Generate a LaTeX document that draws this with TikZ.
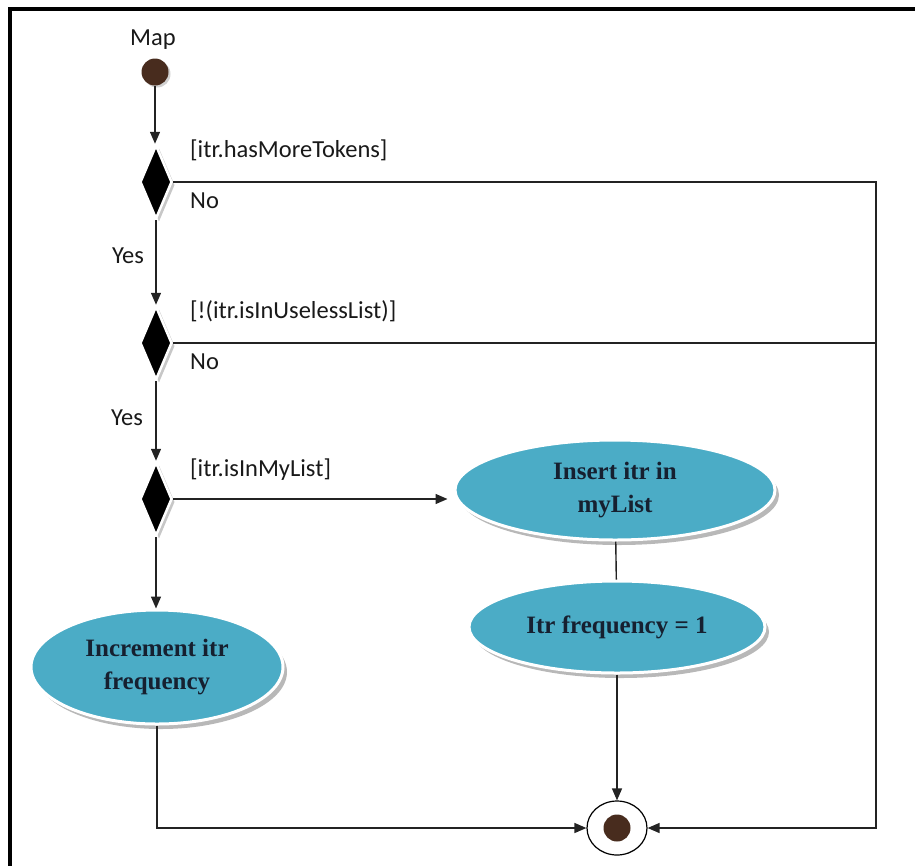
\documentclass[tikz,border=0pt]{standalone}
\usepackage{fontspec}
\setmainfont{Liberation Serif}
\newfontfamily\labelfont{Carlito}
\usetikzlibrary{shapes.geometric,arrows.meta,shadows}
\definecolor{actfill}{RGB}{75,172,198}
\definecolor{acttext}{RGB}{22,32,48}
\definecolor{dotbrown}{RGB}{72,44,30}
\definecolor{wire}{RGB}{35,35,35}
\begin{document}
\begin{tikzpicture}[x=1pt,y=-1pt,
  guard/.style={font=\labelfont\fontsize{24.5}{28}\selectfont, text=black!90, inner sep=0pt},
  flow/.style={draw=wire, line width=1.4pt, -{Triangle[length=12pt,width=10pt]}},
  plain/.style={draw=wire, line width=1.4pt},
  choice/.style={diamond, fill=black, draw=white, line width=2.5pt,
    minimum width=32pt, minimum height=74pt, inner sep=0pt,
    drop shadow={shadow xshift=3pt, shadow yshift=-3pt, fill=black!22, opacity=1}},
  activity/.style={ellipse, fill=actfill, draw=white, line width=3pt, text=acttext,
    font=\bfseries\fontsize{25}{33}\selectfont, align=center, inner sep=0pt,
    drop shadow={shadow xshift=4pt, shadow yshift=-5pt, fill=black!28, opacity=1}},
  startdot/.style={circle, fill=dotbrown, minimum size=27pt, inner sep=0pt,
    drop shadow={shadow xshift=2pt, shadow yshift=-2pt, fill=black!18, opacity=1}},
  endring/.style={ellipse, draw=black, line width=1.2pt, fill=white,
    minimum width=60pt, minimum height=54pt, inner sep=0pt},
  enddot/.style={circle, fill=dotbrown, minimum size=27pt, inner sep=0pt},
]
\useasboundingbox (0,0) rectangle (915,865);

% page frame (top and left edges)
\draw[line width=3.5pt, line cap=rect] (10,870) -- (10,9) -- (920,9);

% initial node
\node[guard] (maplbl) at (153,40) {Map};
\node[startdot] (start) at (155,72) {};

% decisions
\node[choice] (d1) at (156,182) {};
\node[choice] (d2) at (156,343) {};
\node[choice] (d3) at (156,499) {};

\node[guard, anchor=west] (g1) at (190,150) {[itr.hasMoreTokens]};
\node[guard, anchor=west] (no1) at (190,201) {No};
\node[guard, anchor=west] (g2) at (190,311) {[!(itr.isInUselessList)]};
\node[guard, anchor=west] (no2) at (190,362) {No};
\node[guard, anchor=west] (g3) at (190,470) {[itr.isInMyList]};
\node[guard] (yes1) at (128,256) {Yes};
\node[guard] (yes2) at (127,418) {Yes};

% actions
\node[activity, minimum width=320pt, minimum height=100pt] (insert) at (615,490)
  {Insert itr in\\myList};
\node[activity, minimum width=296pt, minimum height=92pt] (setone) at (617,627)
  {Itr frequency = 1};
\node[activity, minimum width=252pt, minimum height=114pt] (incr) at (157,667)
  {Increment itr\\frequency};

% final node
\node[endring] (fin) at (617,828) {};
\node[enddot] (findot) at (fin.center) {};

% right-hand return line
\coordinate (r1) at (876,182);
\coordinate (r2) at (876,343);

% connectors
\draw[flow] (start) -- (start |- d1.north);
\draw[flow] (d1) -- (d2);
\draw[flow] (d2) -- (d3);
\draw[flow, shorten >=6pt] (d3.east) -- (d3.east -| insert.west);
\draw[flow] (d3) -- (d3 |- incr.north);
\draw[plain] (insert) -- (setone);
\draw[flow] (setone) -- (fin);
\draw[flow] (incr.south) |- (fin.west);
\draw[flow] (d1.east) -- (r1) |- (fin.east);
\draw[plain] (d2.east) -- (r2);
\end{tikzpicture}
\end{document}
